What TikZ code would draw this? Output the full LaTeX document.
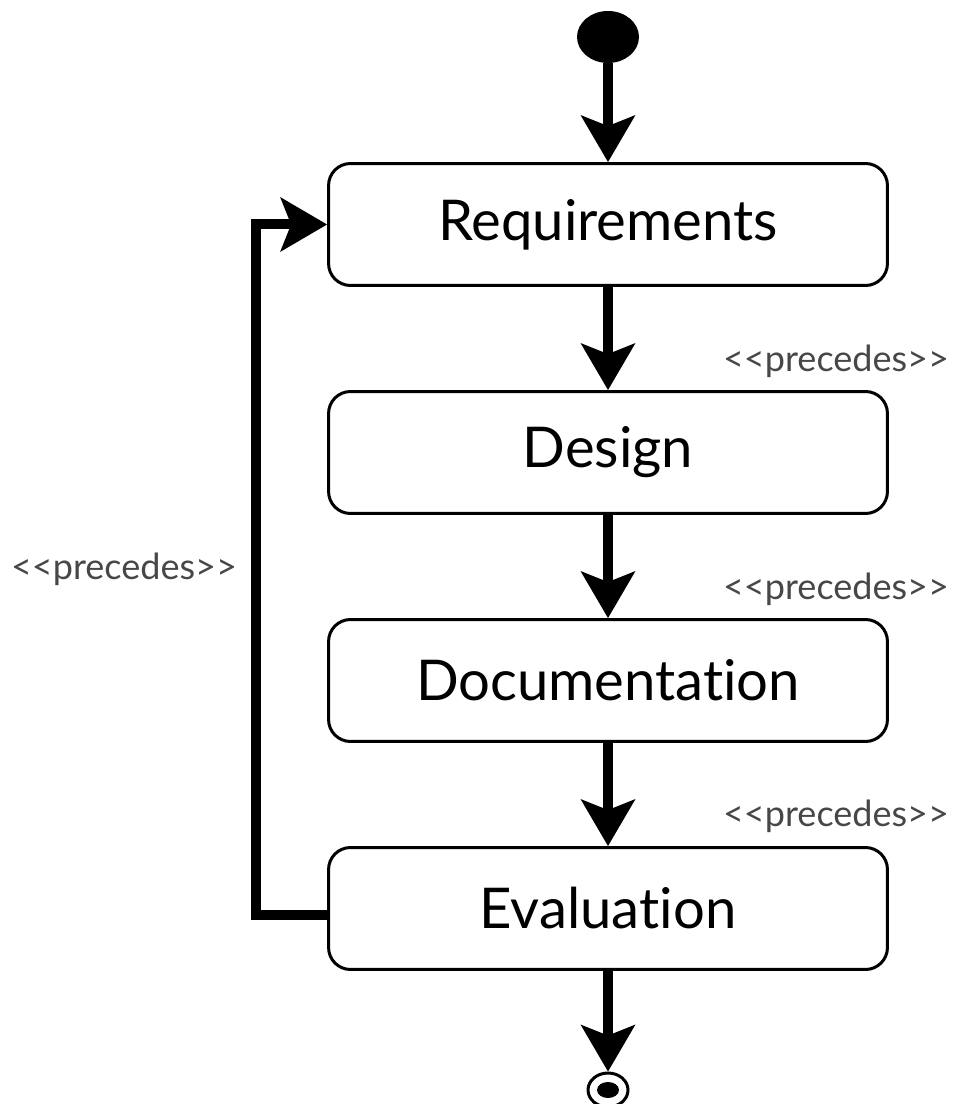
\documentclass[tikz,border=0pt]{standalone}
\usepackage{fontspec}
\setmainfont{Lato}[Ligatures={NoCommon}]
\usetikzlibrary{arrows.meta,shapes.geometric}
\tikzset{
    phase/.style={
        draw,
        rounded corners=0.44cm,
        line width=0.06cm,
        minimum width=11.18cm,
        minimum height=2.44cm,
        font=\fontsize{32}{36}\selectfont
    },
    flow/.style={
        line width=0.2cm,
        -{Stealth[length=0.94cm, width=1.1cm, inset=0.22cm, line width=0pt]}
    },
    stereo/.style={
        text=black!72,
        inner sep=0pt,
        font=\fontsize{20.5}{24}\selectfont
    }
}
\newcommand{\precedes}{<\kern0pt<precedes>\kern0pt>}

\begin{document}
\begin{tikzpicture}[x=0.02cm, y=-0.02cm]
    \useasboundingbox (0,0) rectangle (954,1104);

    % start and end
    \node[ellipse, fill, inner sep=0pt, minimum width=1.24cm, minimum height=1.04cm] (start) at (608,37) {};
    \node[ellipse, draw, line width=0.06cm, inner sep=0pt, minimum width=0.8cm, minimum height=0.68cm] (stop) at (608,1090) {};
    \node[ellipse, fill, inner sep=0pt, minimum width=0.44cm, minimum height=0.32cm] (stopdot) at (608,1090) {};

    % phases
    \node[phase] (req) at (608,224.5) {Requirements};
    \node[phase] (des) at (608,452.5) {Design};
    \node[phase] (doc) at (608,680.5) {Documentation};
    \node[phase] (eva) at (608,908.5) {Evaluation};

    \draw[flow] (start) -- (req);
    \draw[flow] (req) -- (des);
    \draw[flow] (des) -- (doc);
    \draw[flow] (doc) -- (eva);
    \draw[flow] (eva) -- (stop);
    \draw[flow] ([yshift=-0.12cm]eva.west) -- ++(-71,0) |- (req.west);

    % stereotypes
    \node[stereo] (p1) at (836,361) {\precedes};
    \node[stereo] (p2) at (836,589) {\precedes};
    \node[stereo] (p3) at (836,816) {\precedes};
    \node[stereo] (p4) at (124,569) {\precedes};
\end{tikzpicture}
\end{document}
